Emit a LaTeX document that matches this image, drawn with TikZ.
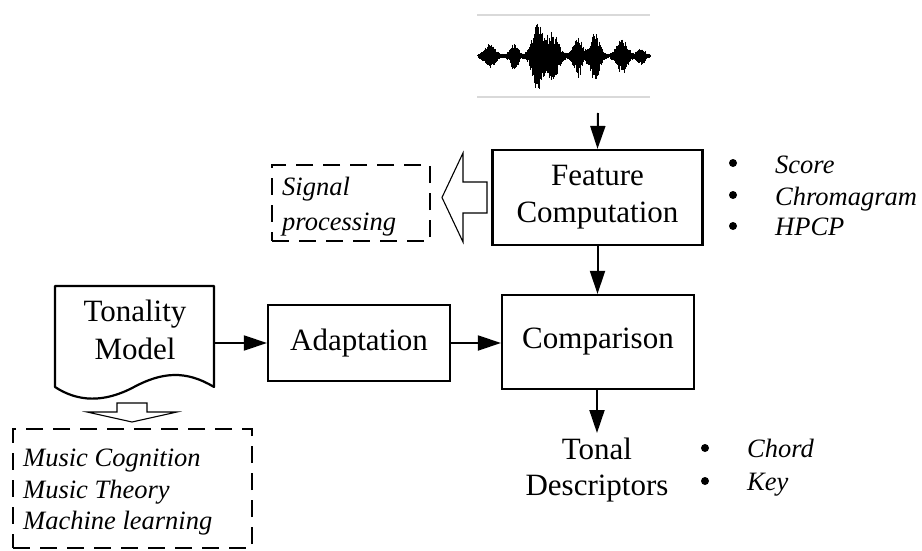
\documentclass[tikz,border=0pt]{standalone}
\usepackage{fontspec}
\setmainfont{Liberation Serif}
\usetikzlibrary{arrows.meta}
\tikzset{
  box/.style={draw, line width=2.2pt, align=center, inner sep=0pt,
    font=\fontsize{31}{37}\selectfont},
  plain/.style={align=center, inner sep=0pt, font=\fontsize{31}{37}\selectfont},
  arr/.style={line width=2pt, -{Triangle[length=23pt,width=15pt]}},
  dbox/.style={draw, line width=2pt, dash pattern=on 17pt off 10pt},
  hollow/.style={draw, line width=1.1pt, fill=white},
  itl/.style={inner sep=0pt, font=\fontsize{26.5}{32}\selectfont\itshape},
  bul/.style={circle, fill=black, inner sep=0pt, minimum size=8pt},
  grayline/.style={draw, line width=1.5pt, black!15},
}
\begin{document}
\begin{tikzpicture}[x=1pt,y=-1pt]
\useasboundingbox (0,0) rectangle (922,551);

% waveform
\draw[grayline] (477,15) -- (650,15);
\draw[grayline] (477,97) -- (650,97);
\draw[line width=1pt] (477,56) -- (650,56);
\pgfmathsetseed{11}
\foreach \x in {478,478.45,...,650} {
  \pgfmathsetmacro\e{1.6
    + 11*exp(max(-15,-((\x-490)/7)^2))
    + 12*exp(max(-15,-((\x-514)/5)^2))
    + 31*exp(max(-15,-((\x-537)/7)^2))
    + 23*exp(max(-15,-((\x-552)/8)^2))
    + 18*exp(max(-15,-((\x-578)/6)^2))
    + 23*exp(max(-15,-((\x-595)/6)^2))
    + 16*exp(max(-15,-((\x-622)/7)^2))
    + 7*exp(max(-15,-((\x-641)/5)^2))}
  \pgfmathsetmacro\u{\e*(0.5+0.5*rnd)}
  \pgfmathsetmacro\d{\e*(0.5+0.6*rnd)}
  \draw[line width=0.7pt] (\x,56-\u) -- (\x,56+\d);
}
\coordinate (wave) at (598,113);

% main boxes
\node[box, minimum width=210pt, minimum height=95pt] (feat) at (597.5,197.5) {Feature\\Computation};
\node[box, minimum width=192pt, minimum height=94pt] (comp) at (598,342) {Comparison};
\node[box, minimum width=182pt, minimum height=76pt] (adapt) at (359,343) {Adaptation};

% tonality model document shape
\node[inner sep=0pt, minimum width=159pt, minimum height=101pt] (tonal) at (134.5,336.5) {};
\draw[line width=2.2pt, line join=round]
  (55,387) -- (55,286) -- (214,286) -- (214,387)
  .. controls (186,370) and (162,372) .. (134,387)
  .. controls (104,403) and (78,402) .. (55,387) -- cycle;
\node[plain, font=\fontsize{31}{38}\selectfont] (tonaltext) at (135,330) {Tonality\\Model};

% descriptors
\node[plain, font=\fontsize{31}{36}\selectfont] (desc) at (597,470) {Tonal\\Descriptors};
\coordinate (dtop) at (597,433);

% arrows
\draw[arr] (wave) -- (feat.north);
\draw[arr] (feat.south) -- (comp.north -| feat.south);
\draw[arr] (tonal.east |- adapt.west) -- (adapt.west);
\draw[arr] (adapt.east) -- (adapt.east -| comp.west);
\draw[arr] (comp.south -| dtop) -- (dtop);

% signal processing
\node[dbox, minimum width=158pt, minimum height=76pt, inner sep=0pt] (sig) at (351,203) {};
\node[itl, anchor=base west] (sig1) at (282,195) {Signal};
\node[itl, anchor=base west] (sig2) at (282,230) {processing};
\draw[hollow] (487,182) -- (463,182) -- (463,153) -- (442,197.5) -- (463,242) -- (463,213) -- (487,213) -- cycle;

% music box
\node[dbox, minimum width=239pt, minimum height=119pt, inner sep=0pt] (mus) at (132.5,488.5) {};
\node[itl, anchor=base west] (m1) at (23,466) {Music Cognition};
\node[itl, anchor=base west] (m2) at (23,498) {Music Theory};
\node[itl, anchor=base west] (m3) at (23,529) {Machine learning};
\draw[hollow] (117,403) -- (147,403) -- (147,412) -- (177,412) -- (132,422) -- (87,412) -- (117,412) -- cycle;

% feature list
\node[bul] (b1) at (733,163) {};
\node[bul] (b2) at (733,195) {};
\node[bul] (b3) at (733,226) {};
\node[itl, anchor=base west] (f1) at (775,173) {Score};
\node[itl, anchor=base west] (f2) at (775,205) {Chromagram};
\node[itl, anchor=base west] (f3) at (775,235) {HPCP};

% descriptor list
\node[bul] (b4) at (705,448) {};
\node[bul] (b5) at (705,481) {};
\node[itl, anchor=base west] (c1) at (747,457) {Chord};
\node[itl, anchor=base west] (c2) at (747,490) {Key};
\end{tikzpicture}
\end{document}
